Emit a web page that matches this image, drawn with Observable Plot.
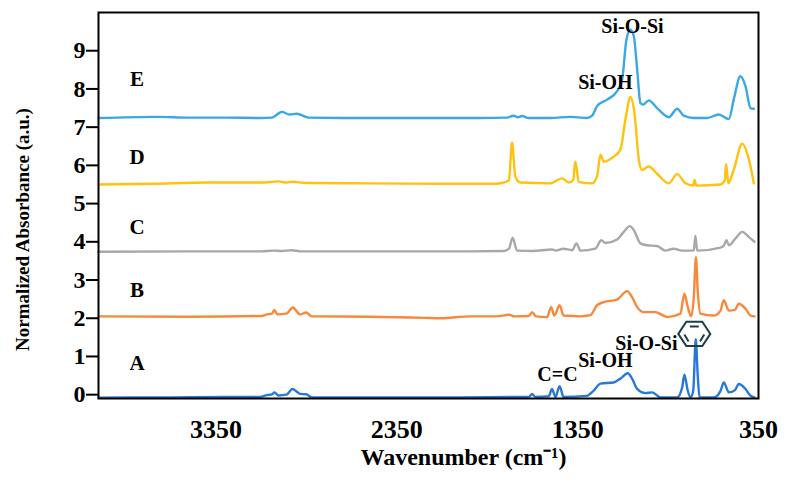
<!DOCTYPE html>
<html><head><meta charset="utf-8">
<script src="https://cdn.jsdelivr.net/npm/d3@7"></script>
<script src="https://cdn.jsdelivr.net/npm/@observablehq/plot@0.6"></script>
<style>body{margin:0;background:#fff}</style>
</head><body><div id="chart"></div>
<script>
// [wavenumber (cm-1), normalized absorbance (offset)]
const specE = [[4000,7.24],[3676,7.27],[3500,7.25],[3300,7.25],[3100,7.24],[3041,7.25],[2986,7.40],[2943,7.33],[2903,7.35],[2839,7.25],[2600,7.24],[2200,7.24],[1900,7.24],[1740,7.25],[1706,7.30],[1680,7.26],[1658,7.29],[1620,7.24],[1500,7.24],[1390,7.27],[1300,7.24],[1270,7.30],[1243,7.55],[1187,7.72],[1132,7.94],[1104,8.25],[1080,9.30],[1058,9.55],[1040,9.39],[1021,8.51],[1003,7.63],[988,7.59],[957,7.70],[911,7.50],[846,7.26],[800,7.48],[763,7.30],[708,7.24],[634,7.24],[570,7.33],[514,7.21],[487,7.72],[450,8.33],[422,8.07],[394,7.50],[376,7.48]];
const specD = [[4000,5.50],[3700,5.52],[3400,5.55],[3100,5.55],[3004,5.58],[2960,5.55],[2930,5.57],[2850,5.54],[2500,5.53],[2100,5.52],[1800,5.52],[1750,5.56],[1730,5.62],[1713,6.60],[1695,5.71],[1667,5.55],[1501,5.53],[1436,5.66],[1399,5.55],[1375,5.62],[1363,6.10],[1344,5.57],[1270,5.53],[1243,5.71],[1224,6.28],[1206,6.10],[1151,6.23],[1114,6.41],[1086,7.20],[1058,7.79],[1036,7.37],[1012,6.15],[994,5.88],[957,5.97],[911,5.78],[846,5.53],[800,5.77],[754,5.53],[711,5.47],[704,5.62],[693,5.47],[560,5.50],[537,5.60],[529,6.04],[517,5.53],[487,5.88],[440,6.57],[413,6.32],[394,5.97],[376,5.53]];
const specC = [[4000,3.74],[3500,3.75],[3100,3.75],[3032,3.77],[2990,3.76],[2930,3.78],[2880,3.75],[2500,3.75],[2000,3.75],[1760,3.76],[1730,3.82],[1710,4.11],[1685,3.77],[1600,3.76],[1492,3.80],[1470,3.77],[1430,3.82],[1380,3.78],[1357,3.96],[1335,3.77],[1252,3.82],[1220,4.04],[1196,3.97],[1132,4.06],[1095,4.26],[1062,4.41],[1040,4.31],[1003,3.96],[966,3.91],[911,3.89],[865,3.77],[820,3.82],[773,3.77],[708,3.77],[699,4.15],[689,3.77],[560,3.85],[541,3.91],[527,4.04],[514,3.91],[477,4.09],[440,4.26],[404,4.13],[372,4.00]];
const specB = [[4000,2.05],[3500,2.04],[3100,2.06],[3068,2.10],[3040,2.12],[3028,2.22],[3010,2.10],[2960,2.12],[2926,2.28],[2885,2.10],[2852,2.15],[2821,2.05],[2500,2.04],[2200,2.01],[2110,2.00],[1944,2.05],[1800,2.05],[1728,2.09],[1700,2.05],[1620,2.06],[1602,2.16],[1580,2.05],[1519,2.03],[1497,2.29],[1479,2.07],[1450,2.34],[1428,2.07],[1335,2.05],[1280,2.08],[1243,2.34],[1206,2.42],[1132,2.49],[1077,2.71],[1049,2.55],[1021,2.29],[985,2.16],[920,2.16],[876,2.07],[855,2.03],[782,2.12],[760,2.64],[741,2.29],[722,2.05],[708,2.55],[696,3.60],[686,2.71],[671,2.12],[597,2.07],[560,2.20],[542,2.47],[514,2.20],[480,2.22],[459,2.38],[422,2.25],[394,2.07],[372,2.05]];
const specA = [[4000,-0.08],[3600,-0.07],[3300,-0.06],[3106,-0.06],[3068,-0.01],[3040,0.01],[3026,0.06],[3005,-0.02],[2960,0.0],[2927,0.15],[2885,0.02],[2852,0.01],[2820,-0.07],[2400,-0.07],[2000,-0.07],[1700,-0.06],[1620,-0.06],[1602,0.02],[1585,-0.06],[1510,-0.04],[1492,0.15],[1473,-0.06],[1450,0.22],[1428,-0.06],[1300,-0.03],[1263,0.10],[1224,0.29],[1151,0.32],[1114,0.42],[1073,0.56],[1049,0.42],[1021,0.15],[975,0.04],[938,0.06],[911,-0.02],[893,-0.07],[800,-0.07],[772,0.19],[760,0.52],[741,0.10],[726,-0.07],[711,0.10],[697,1.45],[686,0.50],[676,-0.07],[597,-0.07],[560,0.10],[542,0.32],[514,0.06],[480,0.12],[459,0.28],[422,0.15],[394,-0.03],[372,-0.07]];

const seriesNames = ["A","B","C","D","E"];
const seriesColors = ["#2a78d6","#f7883e","#a8a8a8","#ffc20e","#3aa8e4"];
const seriesData = [specA, specB, specC, specD, specE];

const xTicks = [3350, 2350, 1350, 350];
const yTicks = [0,1,2,3,4,5,6,7,8,9];

// sample letters
const letterX = 3787;
const letterY = [0.81, 2.73, 4.38, 6.20, 8.24];

// peak annotations
const annText = ["Si-O-Si","Si-OH","C=C","Si-OH","Si-O-Si"];
const annX = [1047, 1197, 1462, 1197, 970];
const annY = [9.64, 8.16, 0.52, 0.89, 1.34];
const benzenePos = [705, 1.59];

const rows = seriesData.flatMap((pts, i) =>
  pts.map(([w, a]) => ({name: seriesNames[i], w, a})).sort((p, q) => p.w - q.w));
const letters = seriesNames.map((n, i) => ({n, x: letterX, y: letterY[i]}));
const anns = annText.map((t, i) => ({t, x: annX[i], y: annY[i]}));

const benzene = {
  draw(ctx, size) {
    const r = Math.sqrt(size / Math.PI);
    const h = r * 0.76;
    ctx.moveTo(-r, 0); ctx.lineTo(-r/2, -h); ctx.lineTo(r/2, -h);
    ctx.lineTo(r, 0); ctx.lineTo(r/2, h); ctx.lineTo(-r/2, h); ctx.closePath();
    // inner double bonds
    ctx.moveTo(-0.28*r, -h + 0.3*r); ctx.lineTo(0.28*r, -h + 0.3*r);
    ctx.moveTo(-0.62*r, 0.05*h); ctx.lineTo(-0.36*r, 0.62*h);
    ctx.moveTo(0.62*r, 0.05*h); ctx.lineTo(0.36*r, 0.62*h);
  }
};

const font = "Liberation Serif, Times New Roman, serif";

const chart = Plot.plot({
  width: 786, height: 483,
  marginLeft: 98, marginRight: 28, marginTop: 12, marginBottom: 85,
  style: {fontFamily: font, background: "#fff", color: "#000"},
  x: {domain: [4000, 350]},
  y: {domain: [-0.1, 10]},
  color: {domain: seriesNames, range: seriesColors},
  marks: [
    Plot.line(rows, {x: "w", y: "a", z: "name", stroke: "name", strokeWidth: 2.4, curve: "monotone-x"}),
    Plot.frame({stroke: "#000", strokeWidth: 2}),
    Plot.axisY({ticks: yTicks, tickFormat: d3.format("d"), tickSize: 12, tickPadding: 1, fontSize: 24, fontWeight: "bold", strokeWidth: 2, label: null}),
    Plot.axisX({ticks: xTicks, tickFormat: d3.format("d"), tickSize: 0, tickPadding: 21, fontSize: 26, fontWeight: "bold", label: null}),
    Plot.text(letters, {x: "x", y: "y", text: "n", fontSize: 21, fontWeight: "bold", fill: "#000"}),
    Plot.text(anns, {x: "x", y: "y", text: "t", fontSize: 20, fontWeight: "bold", fill: "#000"}),
    Plot.dot([benzenePos], {x: d => d[0], y: d => d[1], symbol: benzene, r: 16, stroke: "#1e3e48", strokeWidth: 2, fill: "none"}),
    Plot.text(["Normalized Absorbance (a.u.)"], {frameAnchor: "left", textAnchor: "middle", rotate: -90, dx: -76, dy: 24, fontSize: 19, fontWeight: "bold", fill: "#000"}),
    Plot.text(["Wavenumber (cm⁻¹)"], {frameAnchor: "bottom", dx: 35, dy: 66, fontSize: 24, fontWeight: "bold", fill: "#000"})
  ]
});
document.getElementById("chart").appendChild(chart);
</script>
</body></html>
